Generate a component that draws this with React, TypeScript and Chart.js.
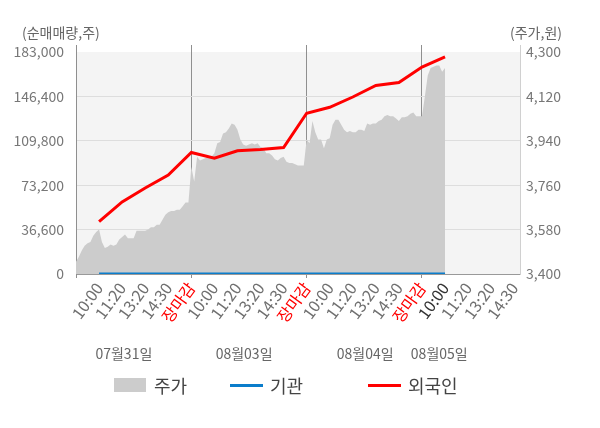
import React, { useEffect, useRef } from 'react';
import { Chart, registerables } from 'chart.js';

Chart.register(...registerables);

const FONT = "'Noto Sans CJK KR', 'Noto Sans', sans-serif";

// x-axis tick labels (one per label slot)
const tickLabels = [
  '10:00', '11:20', '13:20', '14:30', '장마감',
  '10:00', '11:20', '13:20', '14:30', '장마감',
  '10:00', '11:20', '13:20', '14:30', '장마감',
  '10:00', '11:20', '13:20', '14:30',
];
const dateLabels = ['07월31일', '08월03일', '08월04일', '08월05일'];
const leftTicks = [0, 36600, 73200, 109800, 146400, 183000];
const rightTicks = [3400, 3580, 3760, 3940, 4120, 4300];

// 주가 (price, right axis), fine-grained
const priceValues = [
  // 07/31
  3450, 3470, 3495, 3515, 3525, 3530, 3555, 3570, 3580, 3530,
  3505, 3510, 3520, 3515, 3520, 3540, 3550, 3560, 3545, 3545,
  3545, 3575, 3575, 3575, 3575, 3580, 3590, 3590, 3600, 3600,
  3620, 3640, 3650, 3655, 3655, 3660, 3660, 3675, 3690, 3690,
  // 08/03
  3835, 3775, 3875, 3860, 3865, 3870, 3875, 3875, 3890, 3930,
  3935, 3970, 3975, 3990, 4010, 4005, 3985, 3945, 3925, 3920,
  3925, 3930, 3925, 3930, 3915, 3910, 3890, 3890, 3880, 3865,
  3860, 3870, 3875, 3855, 3850, 3850, 3845, 3840, 3840, 3840,
  // 08/04
  3945, 3930, 4020, 3975, 3945, 3945, 3910, 3945, 3950, 4005,
  4025, 4025, 4005, 3985, 3975, 3980, 3975, 3975, 3985, 3985,
  3980, 4010, 4005, 4010, 4010, 4020, 4025, 4040, 4045, 4040,
  4040, 4030, 4020, 4035, 4035, 4040, 4050, 4055, 4040, 4040,
  4040,
  // 08/05
  4120, 4205, 4235, 4240, 4245, 4245, 4220, 4235,
];

// 외국인 cumulative net buying, sampled at each tick label time
const foreignValues = [
  43100, 59400, 70900, 81600, 100200,
  95400, 101600, 102600, 104300, 132500,
  137400, 145900, 155400, 157900, 170600,
  178900,
];
// 기관 cumulative net buying
const institutionValues = [
  0, 0, 0, 0, 0,
  0, 0, 0, 0, 0,
  0, 0, 0, 0, 0,
  0,
];

const POINTS_PER_SLOT = 8;
const TOTAL_POINTS = 155;

const labels: string[] = new Array(TOTAL_POINTS).fill('');
tickLabels.forEach((t, k) => {
  labels[(k + 1) * POINTS_PER_SLOT] = t;
});

function sampled(values: number[]) {
  const arr: (number | null)[] = new Array(TOTAL_POINTS).fill(null);
  values.forEach((v, k) => {
    arr[(k + 1) * POINTS_PER_SLOT] = v;
  });
  return arr;
}

const currentIndex = foreignValues.length * POINTS_PER_SLOT;
const separatorIndices = [0, ...labels.map((l, i) => (l === '장마감' ? i : -1)).filter((i) => i >= 0)];

const BLUE = '#0b7dcb';
const RED = '#ff0000';
const GRAY_AREA = '#cccccc';

const backgroundPlugin = {
  id: 'plotBackground',
  beforeDraw(chart: any) {
    const { ctx, chartArea } = chart;
    const y = chart.scales.y;
    const top = y.getPixelForValue(leftTicks[leftTicks.length - 1]);
    ctx.save();
    ctx.fillStyle = '#f4f4f4';
    ctx.fillRect(chartArea.left, top, chartArea.right - chartArea.left, chartArea.bottom - top);
    ctx.restore();
  },
};

const textPlugin = {
  id: 'extraText',
  afterDraw(chart: any) {
    const { ctx, chartArea } = chart;
    const xScale = chart.scales.x;
    ctx.save();
    // axis titles
    ctx.font = `14px ${FONT}`;
    ctx.fillStyle = '#666';
    ctx.textBaseline = 'middle';
    ctx.textAlign = 'left';
    ctx.fillText('(순매매량,주)', chartArea.left - 54, 33);
    ctx.textAlign = 'right';
    ctx.fillText('(주가,원)', chartArea.right + 42, 33);

    // date labels
    const anchors = [16.6, 58.3, 100.3, 126];
    ctx.textAlign = 'center';
    ctx.font = `14px ${FONT}`;
    ctx.fillStyle = '#666';
    dateLabels.forEach((d, i) => {
      ctx.fillText(d, xScale.getPixelForValue(anchors[i]), 354);
    });

    // legend
    const items = [
      { text: '주가', kind: 'box', color: GRAY_AREA, x: 114 },
      { text: '기관', kind: 'line', color: BLUE, x: 230 },
      { text: '외국인', kind: 'line', color: RED, x: 368 },
    ];
    ctx.font = `18px ${FONT}`;
    ctx.textAlign = 'left';
    items.forEach((it) => {
      if (it.kind === 'box') {
        ctx.fillStyle = it.color;
        ctx.fillRect(it.x, 378, 32, 14);
      } else {
        ctx.strokeStyle = it.color;
        ctx.lineWidth = 3;
        ctx.beginPath();
        ctx.moveTo(it.x, 385.5);
        ctx.lineTo(it.x + 33, 385.5);
        ctx.stroke();
      }
      ctx.fillStyle = '#444';
      ctx.fillText(it.text, it.x + 40, 386);
    });
    ctx.restore();
  },
};

export default function App() {
  const canvasRef = useRef<HTMLCanvasElement | null>(null);

  useEffect(() => {
    if (!canvasRef.current) return;
    const chart = new Chart(canvasRef.current, {
      type: 'line',
      data: {
        labels,
        datasets: [
          {
            label: '주가',
            data: priceValues,
            yAxisID: 'y1',
            fill: 'start',
            backgroundColor: GRAY_AREA,
            borderColor: GRAY_AREA,
            borderWidth: 0,
            pointRadius: 0,
            tension: 0,
            order: 3,
          },
          {
            label: '기관',
            data: sampled(institutionValues),
            yAxisID: 'y',
            borderColor: BLUE,
            backgroundColor: BLUE,
            borderWidth: 3,
            pointRadius: 0,
            spanGaps: true,
            fill: false,
            order: 2,
          },
          {
            label: '외국인',
            data: sampled(foreignValues),
            yAxisID: 'y',
            borderColor: RED,
            backgroundColor: RED,
            borderWidth: 3,
            pointRadius: 0,
            spanGaps: true,
            fill: false,
            order: 1,
          },
        ],
      },
      options: {
        responsive: false,
        animation: false,
        devicePixelRatio: 1,
        layout: { padding: { top: 45, left: 0, right: 0, bottom: 0 } },
        plugins: {
          legend: { display: false },
          tooltip: { enabled: false },
        },
        scales: {
          x: {
            type: 'category',
            offset: false,
            grid: {
              color: (c: any) => (separatorIndices.includes(c.index) ? '#8f8f8f' : 'rgba(0,0,0,0)'),
              lineWidth: 1,
              tickLength: 4,
              drawOnChartArea: true,
            },
            border: { color: '#999999' },
            ticks: {
              autoSkip: false,
              maxRotation: 54,
              minRotation: 54,
              padding: 1,
              font: { family: FONT, size: 16 },
              color: (c: any) => {
                const l = labels[c.index];
                if (l === '장마감') return RED;
                if (c.index === currentIndex) return '#333333';
                return '#707070';
              },
            },
            afterFit: (s: any) => {
              s.height = 154;
            },
          },
          y: {
            type: 'linear',
            position: 'left',
            min: 0,
            max: 188770,
            afterBuildTicks: (s: any) => {
              s.ticks = leftTicks.map((v) => ({ value: v }));
            },
            grid: {
              color: (c: any) => (c.tick && c.tick.value === 183000 ? 'rgba(0,0,0,0)' : '#dddddd'),
              drawTicks: false,
              lineWidth: 1,
            },
            border: { color: '#8f8f8f' },
            ticks: {
              padding: 12,
              color: '#777777',
              font: { family: FONT, size: 14 },
              callback: (v: any) => Number(v).toLocaleString('en-US'),
            },
            afterFit: (s: any) => {
              s.width = 76;
            },
          },
          y1: {
            type: 'linear',
            position: 'right',
            min: 3400,
            max: 4328.4,
            afterBuildTicks: (s: any) => {
              s.ticks = rightTicks.map((v) => ({ value: v }));
            },
            grid: { drawOnChartArea: false, drawTicks: false },
            border: { color: '#d0d0d0' },
            ticks: {
              padding: 6,
              color: '#777777',
              font: { family: FONT, size: 14 },
              callback: (v: any) => Number(v).toLocaleString('en-US'),
            },
            afterFit: (s: any) => {
              s.width = 80;
            },
          },
        },
      },
      plugins: [backgroundPlugin, textPlugin],
    } as any);
    return () => chart.destroy();
  }, []);

  return (
    <div style={{ position: 'absolute', left: 0, top: 0, width: 600, height: 428, background: '#ffffff' }}>
      <canvas ref={canvasRef} width={600} height={428} style={{ width: 600, height: 428, display: 'block' }} />
    </div>
  );
}
